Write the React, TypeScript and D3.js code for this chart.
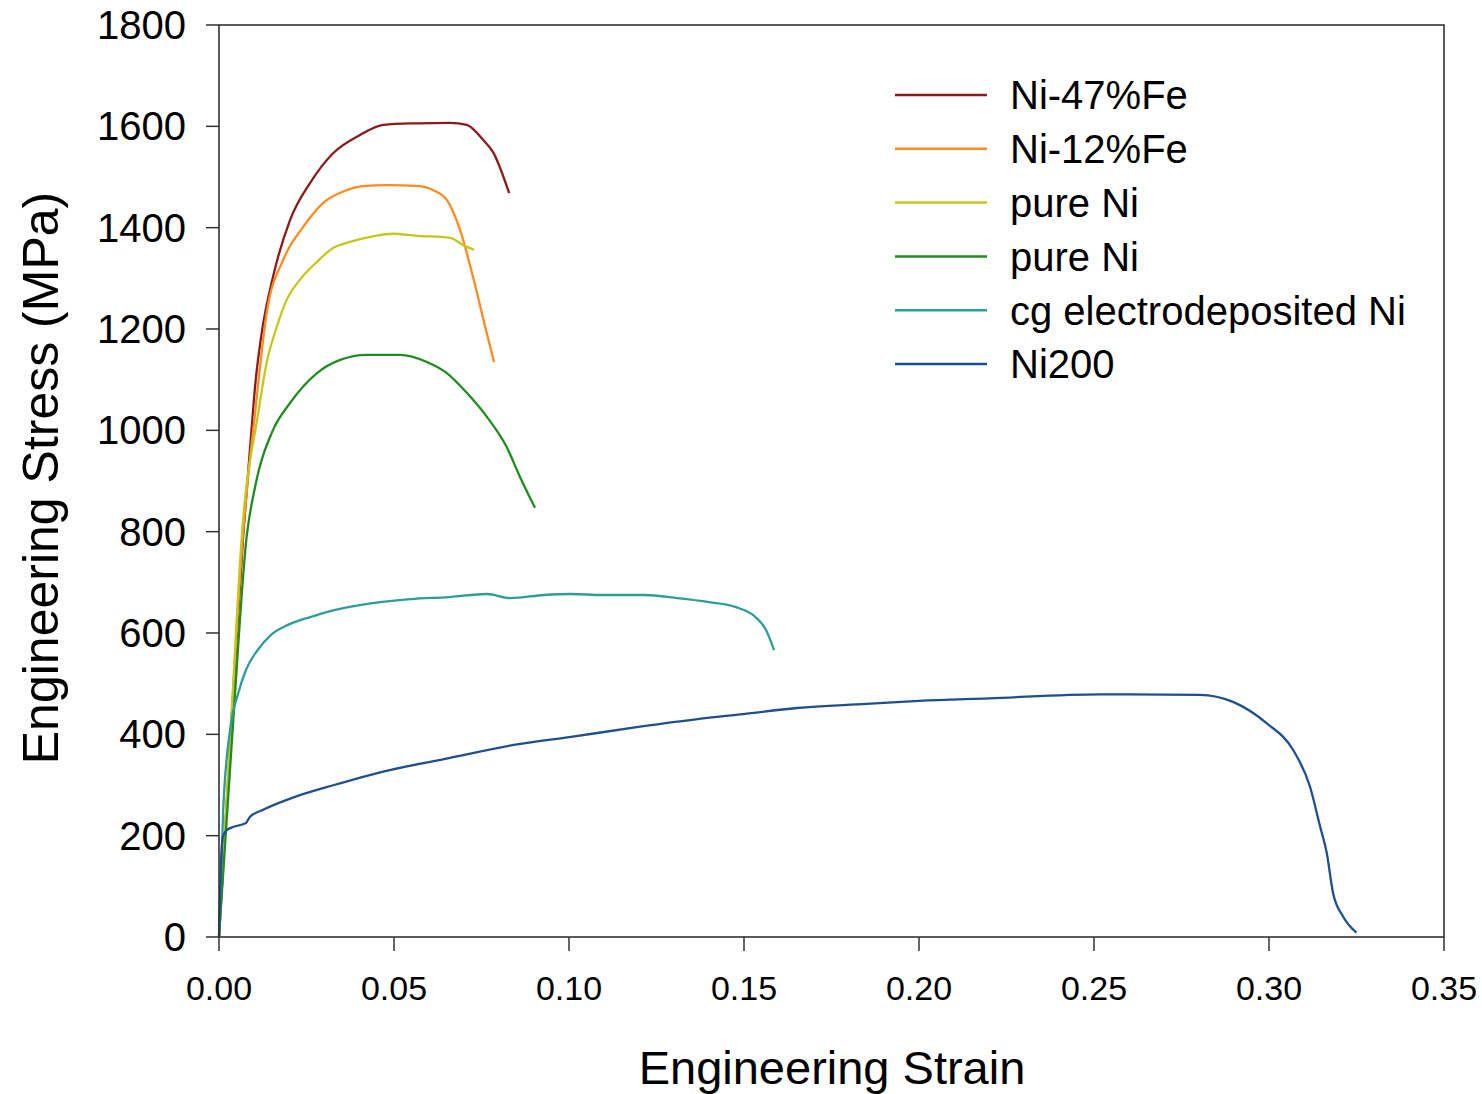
import React from "react";
import * as d3 from "d3";

const seriesNames = ["Ni-47%Fe", "Ni-12%Fe", "pure Ni", "pure Ni", "cg electrodeposited Ni", "Ni200"];
const seriesColors = ["#8B1A1A", "#FF8A1E", "#C4C81C", "#1F8C1F", "#2E9C98", "#1F4F8F"];

const ni47Strain = [0, 0.0035, 0.0069, 0.0089, 0.0105, 0.0122, 0.0154, 0.0203, 0.026, 0.0326, 0.0403, 0.047, 0.0566, 0.066, 0.0708, 0.0755, 0.0783, 0.0829];
const ni47Stress = [0, 420, 790, 967, 1100, 1192, 1302, 1415, 1488, 1547, 1583, 1603, 1606, 1607, 1603, 1573, 1549, 1468];

const ni12Strain = [0, 0.0035, 0.0068, 0.0103, 0.0136, 0.0183, 0.024, 0.0298, 0.0365, 0.0412, 0.048, 0.0574, 0.0612, 0.0651, 0.0689, 0.0726, 0.0765, 0.0786];
const ni12Stress = [0, 420, 790, 1034, 1231, 1336, 1401, 1449, 1474, 1482, 1484, 1482, 1474, 1455, 1395, 1302, 1192, 1135];

const pureNiAStrain = [0, 0.0035, 0.0065, 0.0112, 0.0136, 0.0165, 0.0193, 0.0231, 0.0279, 0.0326, 0.0374, 0.044, 0.0497, 0.0566, 0.066, 0.0697, 0.0729];
const pureNiAStress = [0, 430, 790, 1034, 1133, 1204, 1257, 1297, 1332, 1360, 1372, 1383, 1388, 1384, 1380, 1366, 1356];

const pureNiBStrain = [0, 0.004, 0.0079, 0.0103, 0.0154, 0.0203, 0.028, 0.0346, 0.0422, 0.0517, 0.0594, 0.0651, 0.0708, 0.0765, 0.0822, 0.086, 0.0903];
const pureNiBStress = [0, 420, 790, 888, 1000, 1054, 1113, 1139, 1149, 1149, 1135, 1113, 1074, 1027, 967, 908, 847];

const cgStrain = [0, 0.0012, 0.0033, 0.0055, 0.0077, 0.011, 0.0148, 0.0197, 0.0263, 0.0329, 0.0438, 0.0547, 0.0657, 0.0766, 0.0832, 0.0929, 0.1006, 0.1094, 0.1215, 0.131, 0.14, 0.1477, 0.1532, 0.1563, 0.1586];
const cgStress = [0, 250, 415, 481, 527, 566, 596, 616, 632, 645, 659, 667, 671, 677, 669, 675, 677, 675, 675, 669, 661, 651, 632, 606, 566];

const ni200Strain = [0, 0.0005, 0.0011, 0.0022, 0.0044, 0.0077, 0.0088, 0.0126, 0.0219, 0.0329, 0.0491, 0.0657, 0.0842, 0.1006, 0.1203, 0.1367, 0.1498, 0.1651, 0.185, 0.2, 0.22, 0.2517, 0.2803, 0.2897, 0.2993, 0.3069, 0.3117, 0.3146, 0.3165, 0.3183, 0.3212, 0.325];
const ni200Stress = [0, 130, 198, 211, 218, 225, 237, 251, 277, 300, 330, 353, 379, 395, 415, 430, 440, 452, 460, 466, 471, 479, 478, 464, 422, 369, 297, 218, 166, 87, 40, 8.5];

const xTicks = [0, 0.05, 0.1, 0.15, 0.2, 0.25, 0.3, 0.35];
const yTicks = [0, 200, 400, 600, 800, 1000, 1200, 1400, 1600, 1800];

const seriesStrains = [ni47Strain, ni12Strain, pureNiAStrain, pureNiBStrain, cgStrain, ni200Strain];
const seriesStresses = [ni47Stress, ni12Stress, pureNiAStress, pureNiBStress, cgStress, ni200Stress];

export default function App() {
  const W = 1482, H = 1094;
  const left = 219, right = 1444, top = 25, bottom = 937;
  const x = d3.scaleLinear().domain([0, 0.35]).range([left, right]);
  const y = d3.scaleLinear().domain([0, 1800]).range([bottom, top]);
  const line = d3.line<[number, number]>().x(d => x(d[0])).y(d => y(d[1])).curve(d3.curveMonotoneX);
  const font = "'Liberation Sans', Arial, sans-serif";
  const legendX0 = 895, legendX1 = 987, legendTextX = 1010, legendY0 = 95, legendStep = 53.8;

  return (
    <svg width={W} height={H} style={{ position: "absolute", left: 0, top: 0, background: "#fff" }} fontFamily={font}>
      <rect x={0} y={0} width={W} height={H} fill="#fff" />
      {seriesStrains.map((xs, i) => {
        const pts: [number, number][] = xs.map((v, j) => [v, seriesStresses[i][j]]);
        return <path key={i} d={line(pts) || ""} fill="none" stroke={seriesColors[i]} strokeWidth={2.3} strokeLinejoin="round" />;
      })}
      <rect x={left} y={top} width={right - left} height={bottom - top} fill="none" stroke="#333" strokeWidth={1.6} />
      {yTicks.map(t => (
        <g key={"y" + t}>
          <line x1={left - 13} x2={left} y1={y(t)} y2={y(t)} stroke="#333" strokeWidth={1.5} />
          <text x={186} y={y(t)} dy="0.35em" textAnchor="end" fontSize={40} fill="#000">{t}</text>
        </g>
      ))}
      {xTicks.map(t => (
        <g key={"x" + t}>
          <line x1={x(t)} x2={x(t)} y1={bottom} y2={bottom + 14} stroke="#333" strokeWidth={1.5} />
          <text x={x(t)} y={1000} textAnchor="middle" fontSize={34} fill="#000">{t.toFixed(2)}</text>
        </g>
      ))}
      <text x={832} y={1084} textAnchor="middle" fontSize={47} fill="#000">Engineering Strain</text>
      <text transform={`translate(58,478) rotate(-90)`} textAnchor="middle" fontSize={50} fill="#000">Engineering Stress (MPa)</text>
      {seriesNames.map((n, i) => (
        <g key={"l" + i}>
          <line x1={legendX0} x2={legendX1} y1={legendY0 + i * legendStep} y2={legendY0 + i * legendStep} stroke={seriesColors[i]} strokeWidth={2.5} />
          <text x={legendTextX} y={legendY0 + i * legendStep} dy="0.36em" fontSize={40} fill="#000">{n}</text>
        </g>
      ))}
    </svg>
  );
}
